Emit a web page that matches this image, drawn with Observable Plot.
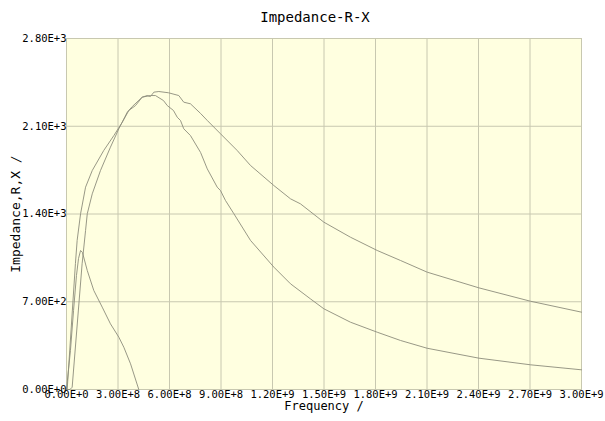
<!DOCTYPE html>
<html>
<head>
<meta charset="utf-8">
<script src="https://cdn.jsdelivr.net/npm/d3@7"></script>
<script src="https://cdn.jsdelivr.net/npm/@observablehq/plot@0.6"></script>
<style>
  body { margin: 0; background: #ffffff; }
</style>
</head>
<body>
<div id="chart"></div>
<script>
const chartTitle = "Impedance-R-X";
const xLabel = "Frequency /";
const yLabel = "Impedance,R,X /";

const xTicks = [0, 3e8, 6e8, 9e8, 1.2e9, 1.5e9, 1.8e9, 2.1e9, 2.4e9, 2.7e9, 3e9];
const xTickLabels = ["0.00E+0","3.00E+8","6.00E+8","9.00E+8","1.20E+9","1.50E+9","1.80E+9","2.10E+9","2.40E+9","2.70E+9","3.00E+9"];
const yTicks = [0, 700, 1400, 2100, 2800];
const yTickLabels = ["0.00E+0","7.00E+2","1.40E+3","2.10E+3","2.80E+3"];

// Series 1 (higher peak, slower decay)
const freq1 = [0, 4e6, 52e6, 62e6, 82e6, 111e6, 150e6, 217e6, 276e6, 325e6, 363e6, 402e6, 441e6, 470e6, 489e6, 509e6, 538e6, 594e6, 654e6, 683e6, 722e6, 781e6, 820e6, 897e6, 994e6, 1072e6, 1208e6, 1305e6, 1363e6, 1499e6, 1654e6, 1810e6, 1946e6, 2101e6, 2402e6, 2703e6, 3000e6];
const imp1  = [0, 0, 1005, 1189, 1402, 1614, 1747, 1907, 2026, 2132, 2226, 2265, 2332, 2345, 2337, 2372, 2377, 2367, 2345, 2292, 2279, 2202, 2146, 2040, 1907, 1787, 1627, 1521, 1481, 1335, 1215, 1109, 1029, 936, 811, 704, 617];

// Series 2 (peak, faster decay)
const freq2 = [0, 20e6, 33e6, 91e6, 111e6, 121e6, 150e6, 198e6, 256e6, 305e6, 354e6, 383e6, 441e6, 489e6, 518e6, 565e6, 587e6, 623e6, 645e6, 664e6, 683e6, 722e6, 781e6, 820e6, 878e6, 897e6, 926e6, 975e6, 1072e6, 1208e6, 1305e6, 1421e6, 1499e6, 1654e6, 1810e6, 1946e6, 2101e6, 2402e6, 2703e6, 3000e6];
const imp2  = [0, 0, 18, 1003, 1268, 1402, 1561, 1747, 1933, 2080, 2212, 2257, 2332, 2345, 2345, 2305, 2265, 2226, 2172, 2146, 2080, 2026, 1891, 1760, 1614, 1587, 1508, 1402, 1189, 976, 843, 723, 644, 537, 457, 391, 329, 250, 197, 157];

// Series 3 (small early peak)
const freq3 = [0, 23e6, 41e6, 58e6, 70e6, 82e6, 93e6, 121e6, 159e6, 208e6, 256e6, 305e6, 334e6, 373e6, 421e6];
const imp3  = [0, 311, 630, 909, 1045, 1109, 1093, 949, 790, 657, 524, 417, 337, 205, 0];

const series = [
  {name: "s1", f: freq1, v: imp1},
  {name: "s2", f: freq2, v: imp2},
  {name: "s3", f: freq3, v: imp3}
];
const data = series.flatMap(s => s.f.map((f, i) => ({series: s.name, f, v: s.v[i]})));

const fmtX = d => xTickLabels[xTicks.indexOf(d)] ?? "";
const fmtY = d => yTickLabels[yTicks.indexOf(d)] ?? "";

const font = "'DejaVu Sans Mono', monospace";

const plot = Plot.plot({
  width: 605,
  height: 421,
  marginLeft: 66,
  marginRight: 24,
  marginTop: 38,
  marginBottom: 32,
  style: {fontFamily: font, fontSize: "10.5px", color: "#000", background: "#ffffff"},
  x: {domain: [0, 3e9], ticks: xTicks, tickFormat: fmtX, label: null},
  y: {domain: [0, 2800], ticks: yTicks, tickFormat: fmtY, label: null},
  marks: [
    Plot.frame({fill: "#ffffe0", stroke: null}),
    Plot.gridX(xTicks, {stroke: "#c8c8b0", strokeOpacity: 1, strokeWidth: 1}),
    Plot.gridY(yTicks, {stroke: "#c8c8b0", strokeOpacity: 1, strokeWidth: 1}),
    Plot.frame({stroke: "#c8c8b0", strokeWidth: 1}),
    Plot.line(data, {x: "f", y: "v", z: "series", stroke: "#8c8c7c", strokeWidth: 0.9, curve: "linear"}),
    Plot.axisX(xTicks, {tickSize: 0, tickPadding: 1, tickFormat: fmtX, fontSize: 10.5, label: null}),
    Plot.axisY(yTicks, {tickSize: 0, tickPadding: 0, tickFormat: fmtY, fontSize: 10.5, label: null}),
    Plot.text([chartTitle], {frameAnchor: "top", dy: -26, dx: -9, fontSize: 14, fill: "#000"}),
    Plot.text([xLabel], {frameAnchor: "bottom", dy: 20, fontSize: 12, fill: "#000"}),
    Plot.text([yLabel], {frameAnchor: "left", textAnchor: "middle", dx: -51, rotate: -90, fontSize: 13, fill: "#000"})
  ]
});
document.getElementById("chart").appendChild(plot);
</script>
</body>
</html>
